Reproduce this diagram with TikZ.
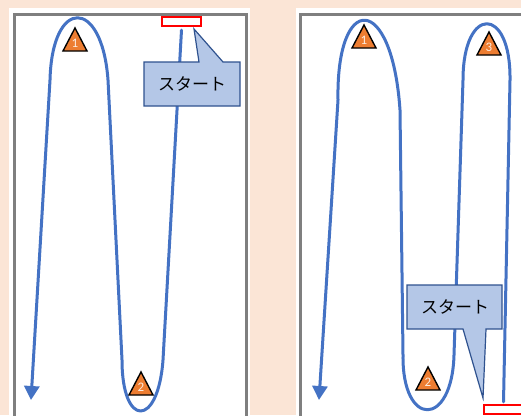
\documentclass[tikz,border=0pt]{standalone}
\usepackage{fontspec}
\newfontfamily\jpfont{Noto Sans CJK JP}
\newfontfamily\numfont{Carlito}
\usepackage{xcolor}
\usepackage{tikz}
\usetikzlibrary{arrows.meta,positioning}

\definecolor{peach}{HTML}{FBE5D6}
\definecolor{framegray}{HTML}{7F7F7F}
\definecolor{routeblue}{HTML}{4472C4}
\definecolor{coneorange}{HTML}{ED7D31}
\definecolor{calloutfill}{HTML}{B4C7E7}
\definecolor{calloutline}{HTML}{2F528F}

\tikzset{
  route/.style={routeblue, line width=3pt, line cap=round, line join=round},
  panel/.style={fill=white},
  frameline/.style={framegray, line width=3pt},
  conefill/.style={fill=coneorange, draw=black, line width=1.4pt, line join=miter},
  conenum/.style={inner sep=0pt, text=white!85!coneorange, font=\numfont\fontsize{13}{14}\selectfont},
  startbox/.style={draw=red, fill=white, line width=2.2pt, minimum width=39pt, minimum height=9pt, inner sep=0pt},
  callout/.style={fill=calloutfill, draw=calloutline, line width=1.2pt, line join=miter},
  calltext/.style={inner sep=0pt, font=\jpfont\fontsize{17}{20}\selectfont}
}

% orange cone: name, apex x, apex y, number
\newcommand{\conemark}[4]{%
  \fill[conefill] (#2,#3) -- (#2+12,#3+23) -- (#2-12,#3+23) -- cycle;
  \node[conenum] (#1) at (#2,#3+15.5) {#4};}

\begin{document}
\begin{tikzpicture}[x=1pt, y=-1pt]
        \useasboundingbox (0,0) rectangle (521,415);
        \fill[peach] (0,0) rectangle (521,415);
        % two courses
        \fill[panel] (9,8) rectangle (250,416);
        \fill[panel] (296,8) rectangle (522,416);
        \draw[frameline] (14,417) -- (14,14) -- (246,14) -- (246,417);
        \draw[frameline] (300,417) -- (300,14) -- (523,14);

        \node[startbox] (startL) at (181.5,21.5) {};
        \node[startbox] (startR) at (503.5,409.5) {};

        \draw[route, -{Triangle[width=15pt,length=14pt]}] ([yshift=-3pt]startL.south)
            -- (163,360) .. controls (158,428) and (122,428) .. (122,360)
            -- (108,80) .. controls (102,-3) and (52,-3) .. (50,80)
            -- (31,400);
        \draw[route, -{Triangle[width=15pt,length=14pt]}] ([yshift=2pt]startR.north)
            -- (510,80) .. controls (511,5) and (463,5) .. (463,80)
            -- (454,355) .. controls (452,428) and (402,428) .. (403,355)
            -- (400,110) .. controls (392,-8) and (336,-8) .. (338,100)
            -- (319,400);

        \conemark{coneL1}{75}{28}{1}
        \conemark{coneL2}{141}{372}{2}
        \conemark{coneR1}{364}{25}{1}
        \conemark{coneR2}{428}{367}{2}
        \conemark{coneR3}{489}{32}{3}

        % callouts
        \draw[callout] (144,62) -- (199,62) -- (194,29) -- (223,62) -- (240,62)
            -- (240,106) -- (144,106) -- cycle;
        \node[calltext] (callL) at (192,84) {スタート};
        \draw[callout] (407,285) -- (502,285) -- (502,329) -- (486,329) -- (483,398)
            -- (463,329) -- (407,329) -- cycle;
        \node[calltext] (callR) at (455,307) {スタート};
    \end{tikzpicture}
\end{document}
